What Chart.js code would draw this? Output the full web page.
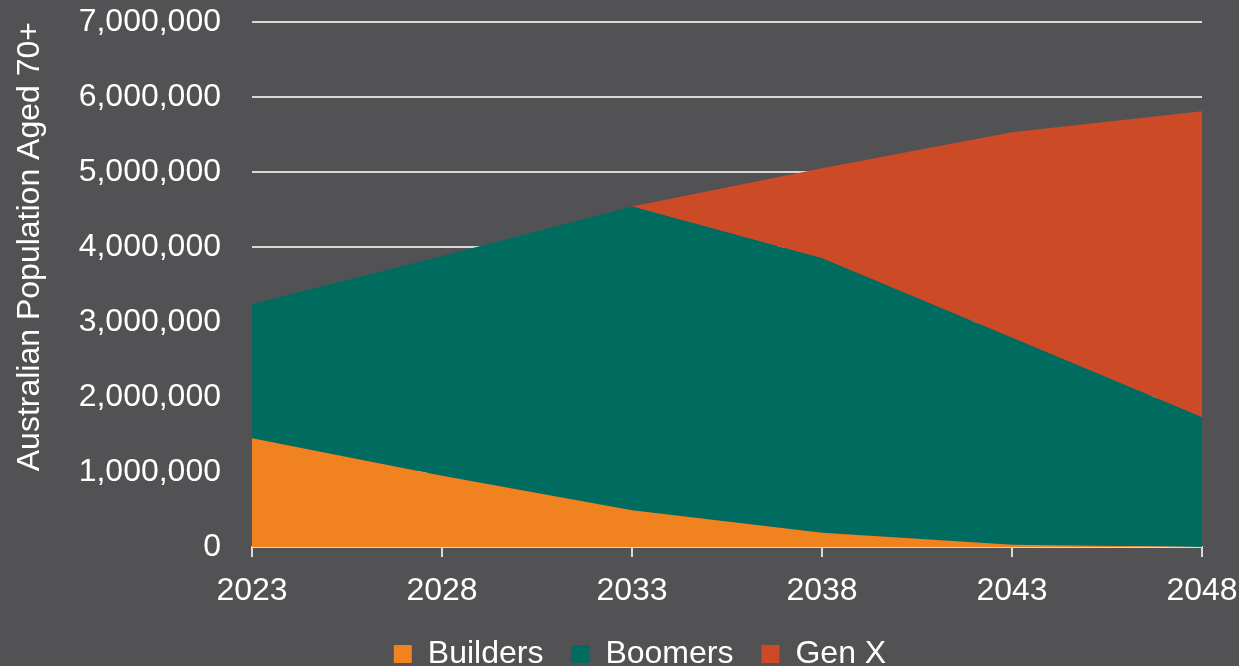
<!DOCTYPE html>
<html>
<head>
<meta charset="utf-8">
<script src="https://cdn.jsdelivr.net/npm/chart.js@4/dist/chart.umd.min.js"></script>
<style>
  html, body { margin: 0; padding: 0; background: #525254; }
  #wrap { width: 1239px; height: 666px; position: relative; }
</style>
</head>
<body>
<div id="wrap"><canvas id="chart" width="1239" height="666"></canvas></div>
<script>
// Projected Australian population aged 70+, by generation
const years = ['2023', '2028', '2033', '2038', '2043', '2048'];
const builders = [1450000, 950000, 490000, 190000, 30000, 0];
const boomers  = [1790000, 2930000, 4050000, 3660000, 2760000, 1730000];
const genX     = [0, 0, 0, 1200000, 2740000, 4080000];

const seriesNames  = ['Builders', 'Boomers', 'Gen X'];
const seriesColors = ['#F08220', '#006C60', '#CC4B26'];

const textColor = '#FFFFFF';
const gridColor = '#D9D9D9';
const fontFamily = '"Liberation Sans", Arial, sans-serif';
const fontSize = 32;

// Fixed frame for the plot area and the legend under it
const PLOT_LEFT = 252;
const PLOT_TOP = 22;
const PLOT_RIGHT_PAD = 37;
const LEGEND_H = 56;
const X_AXIS_H = 63;
const LEGEND_TOP = 610;
const LEGEND_CENTER_X = 640;

Chart.defaults.font.family = fontFamily;
Chart.defaults.font.size = fontSize;
Chart.defaults.color = textColor;

const seriesValues = [builders, boomers, genX];
const datasets = seriesValues.map((vals, i) => ({
  label: seriesNames[i],
  data: vals,
  backgroundColor: seriesColors[i],
  borderColor: seriesColors[i],
  borderWidth: 0,
  pointRadius: 0,
  pointHoverRadius: 0,
  tension: 0,
  fill: i === 0 ? 'origin' : '-1'
}));

// Keeps the legend at a fixed height and centres it on a chosen x
const legendPlacement = {
  id: 'legendPlacement',
  beforeLayout(chart) {
    const lg = chart.legend;
    if (lg && !lg._fixedFit) {
      const fit = lg.fit;
      lg.fit = function () { fit.call(this); this.height = LEGEND_H; };
      lg._fixedFit = true;
    }
  },
  afterLayout(chart) {
    const lg = chart.legend;
    if (!lg) return;
    const h = lg.height;
    const w = lg.right - lg.left;
    lg.top = LEGEND_TOP;
    lg.bottom = LEGEND_TOP + h;
    lg.left = LEGEND_CENTER_X - w / 2;
    lg.right = LEGEND_CENTER_X + w / 2;
  }
};

function noScalePadding(scale) {
  scale.paddingTop = 0;
  scale.paddingBottom = 0;
  scale.paddingLeft = 0;
  scale.paddingRight = 0;
}

new Chart(document.getElementById('chart'), {
  type: 'line',
  data: { labels: years, datasets },
  plugins: [legendPlacement],
  options: {
    responsive: false,
    animation: false,
    layout: {
      autoPadding: false,
      padding: { top: PLOT_TOP, left: 0, right: PLOT_RIGHT_PAD, bottom: 0 }
    },
    plugins: {
      legend: {
        position: 'bottom',
        labels: {
          boxWidth: 18,
          boxHeight: 18,
          padding: 28,
          color: textColor,
          font: { size: fontSize }
        }
      },
      tooltip: { enabled: false }
    },
    scales: {
      x: {
        type: 'category',
        offset: false,
        afterFit(scale) { scale.height = X_AXIS_H; noScalePadding(scale); },
        grid: {
          display: true,
          drawOnChartArea: false,
          drawTicks: true,
          tickLength: 10,
          color: gridColor,
          lineWidth: 2
        },
        border: { display: true, color: gridColor, width: 2 },
        ticks: { color: textColor, font: { size: fontSize }, padding: 15, maxRotation: 0 }
      },
      y: {
        stacked: true,
        min: 0,
        max: 7000000,
        afterFit(scale) { scale.width = PLOT_LEFT; noScalePadding(scale); },
        grid: {
          color: gridColor,
          lineWidth: 2,
          drawTicks: false
        },
        border: { display: false },
        ticks: {
          stepSize: 1000000,
          padding: 31,
          color: textColor,
          font: { size: fontSize },
          callback: v => v.toLocaleString('en-US')
        },
        title: {
          display: true,
          align: 'end',
          text: 'Australian Population Aged 70+',
          color: textColor,
          font: { size: fontSize },
          padding: { top: 11, bottom: 0 }
        }
      }
    }
  }
});
</script>
</body>
</html>
